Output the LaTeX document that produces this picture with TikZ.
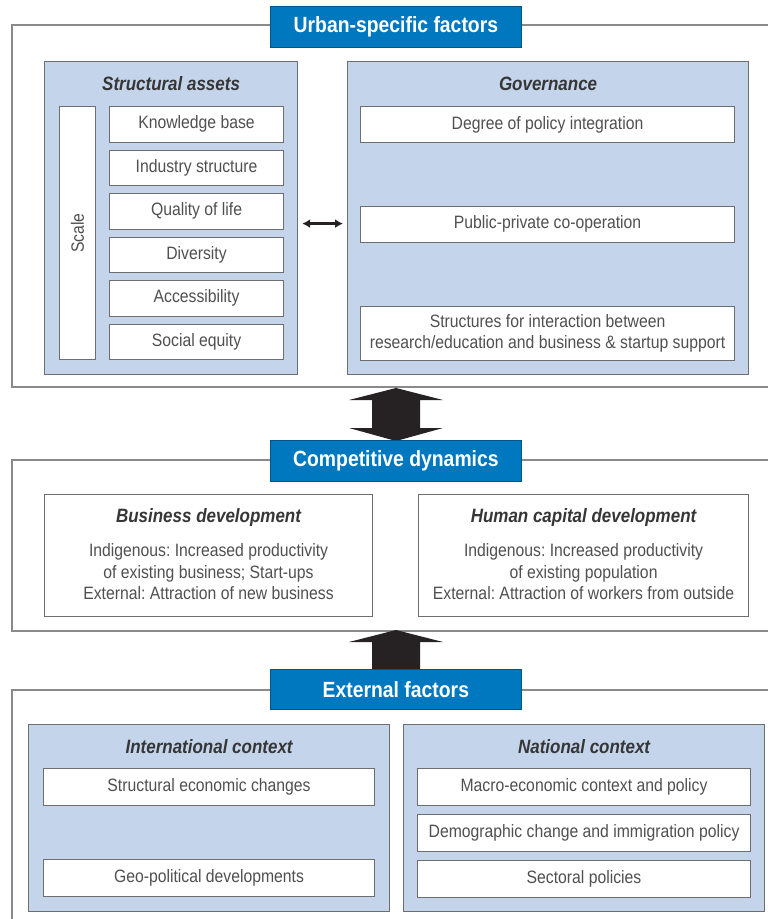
\documentclass[tikz,border=0pt]{standalone}
\usepackage{fontspec}
\setmainfont{Liberation Sans}[FakeStretch=0.88]
\usetikzlibrary{arrows.meta,calc}
\definecolor{oecdblue}{HTML}{0078BF}
\definecolor{panelblue}{HTML}{C3D4EB}
\definecolor{framegray}{HTML}{8A8A8A}
\definecolor{boxgray}{HTML}{6E6E6E}
\definecolor{txtgray}{HTML}{505050}
\definecolor{ttlgray}{HTML}{363636}
\definecolor{arrowblack}{HTML}{262223}
\frenchspacing
\begin{document}
\begin{tikzpicture}[x=1pt,y=-1pt,
  frame/.style={draw=framegray,line width=1.4pt},
  bluetitle/.style={fill=oecdblue,draw=oecdblue!70!black,line width=0.8pt,text=white,
    font=\fontsize{22}{26}\selectfont\bfseries,anchor=north west,inner sep=0pt,minimum width=251pt},
  panel/.style={fill=panelblue,draw=boxgray,line width=1.2pt,anchor=north west,inner sep=0pt},
  item/.style={fill=white,draw=boxgray,line width=1.1pt,anchor=north west,inner sep=0pt,
    text=txtgray,font=\fontsize{17.9}{21.5}\selectfont,align=center},
  bodytext/.style={text=txtgray,font=\fontsize{17.9}{21.5}\selectfont,align=center,inner sep=0pt},
  ptitle/.style={text=ttlgray,font=\fontsize{19.3}{23}\selectfont\bfseries\itshape,inner sep=0pt},
  bigarrow/.style={fill=arrowblack,draw=none},
  dbl/.style={{Latex[length=8pt,width=9pt]}-{Latex[length=8pt,width=9pt]},line width=3pt,draw=arrowblack}
  ]
\useasboundingbox (0,0) rectangle (768,919);
\fill[white] (0,0) rectangle (768,919);

% frames
\draw[frame] (768,25) -- (12,25) -- (12,387) -- (768,387);
\draw[frame] (768,460) -- (12,460) -- (12,631) -- (768,631);
\draw[frame] (768,690) -- (12,690) -- (12,925);

% ---------- Urban-specific factors
\node[bluetitle,minimum height=41pt] (urb) at (270,6) {Urban-specific factors};

\node[panel,minimum width=253pt,minimum height=313pt] (sa) at (44,61) {};
\node[ptitle] (satitle) at ($(sa.north)+(0,23)$) {Structural assets};
\node[item,minimum width=36pt,minimum height=253pt] (scale) at (59,106) {};
\node[bodytext,rotate=90] (scaletxt) at (scale.center) {Scale};
\node[item,minimum width=174pt,minimum height=35.5pt] (kb) at (109,106) {Knowledge base};
\node[item,minimum width=174pt,minimum height=35.5pt] (is) at (109,149.5) {Industry structure};
\node[item,minimum width=174pt,minimum height=35.5pt] (ql) at (109,193) {Quality of life};
\node[item,minimum width=174pt,minimum height=35.5pt] (dv) at (109,236.5) {Diversity};
\node[item,minimum width=174pt,minimum height=35.5pt] (ac) at (109,280) {Accessibility};
\node[item,minimum width=174pt,minimum height=35.5pt] (se) at (109,323.5) {Social equity};

\node[panel,minimum width=401pt,minimum height=313pt] (gov) at (347,61) {};
\node[ptitle] (govtitle) at ($(gov.north)+(0,23)$) {Governance};
\node[item,minimum width=374pt,minimum height=36pt] (dpi) at (360,106) {Degree of policy integration};
\node[item,minimum width=374pt,minimum height=36pt] (ppc) at (360,205.5) {Public-private co-operation};
\node[item,minimum width=374pt,minimum height=53.5pt] (sfi) at (360,306) {Structures for interaction between\\research/education and business \& startup support};

\draw[dbl] ($(sa.east)+(4,5.5)$) -- ($(gov.west)+(-4,5.5)$);

% big double arrow
\fill[bigarrow] (396,388) -- (443,400) -- (420,400) -- (420,428) -- (443,428) -- (396,441)
  -- (349,428) -- (372,428) -- (372,400) -- (349,400) -- cycle;

% ---------- Competitive dynamics
\node[bluetitle,minimum height=41pt] (comp) at (270,440) {Competitive dynamics};

\node[item,minimum width=328pt,minimum height=122pt] (bd) at (44,494) {};
\node[ptitle] (bdtitle) at ($(bd.north)+(0,24)$) {Business development};
\node[bodytext] (bdtxt) at ($(bd.north)+(0,78)$) {Indigenous: Increased productivity\\of existing business; Start-ups\\External: Attraction of new business};

\node[item,minimum width=330pt,minimum height=122pt] (hc) at (418,494) {};
\node[ptitle] (hctitle) at ($(hc.north)+(0,24)$) {Human capital development};
\node[bodytext] (hctxt) at ($(hc.north)+(0,78)$) {Indigenous: Increased productivity\\of existing population\\External: Attraction of workers from outside};

% up arrow
\fill[bigarrow] (396,630) -- (443,642) -- (420,642) -- (420,670) -- (372,670) -- (372,642) -- (349,642) -- cycle;

% ---------- External factors
\node[bluetitle,minimum height=40pt] (ext) at (270,669) {External factors};

\node[panel,minimum width=361pt,minimum height=187pt] (ic) at (28,724) {};
\node[ptitle] (ictitle) at ($(ic.north)+(0,23)$) {International context};
\node[item,minimum width=331pt,minimum height=37pt] (sec) at (43,768) {Structural economic changes};
\node[item,minimum width=331pt,minimum height=37pt] (gpd) at (43,859) {Geo-political developments};

\node[panel,minimum width=361pt,minimum height=187pt] (nc) at (403,724) {};
\node[ptitle] (nctitle) at ($(nc.north)+(0,23)$) {National context};
\node[item,minimum width=333pt,minimum height=37pt] (mec) at (417,768) {Macro-economic context and policy};
\node[item,minimum width=333pt,minimum height=37pt] (dci) at (417,814) {Demographic change and immigration policy};
\node[item,minimum width=333pt,minimum height=37pt] (sp) at (417,859.5) {Sectoral policies};
\end{tikzpicture}
\end{document}
